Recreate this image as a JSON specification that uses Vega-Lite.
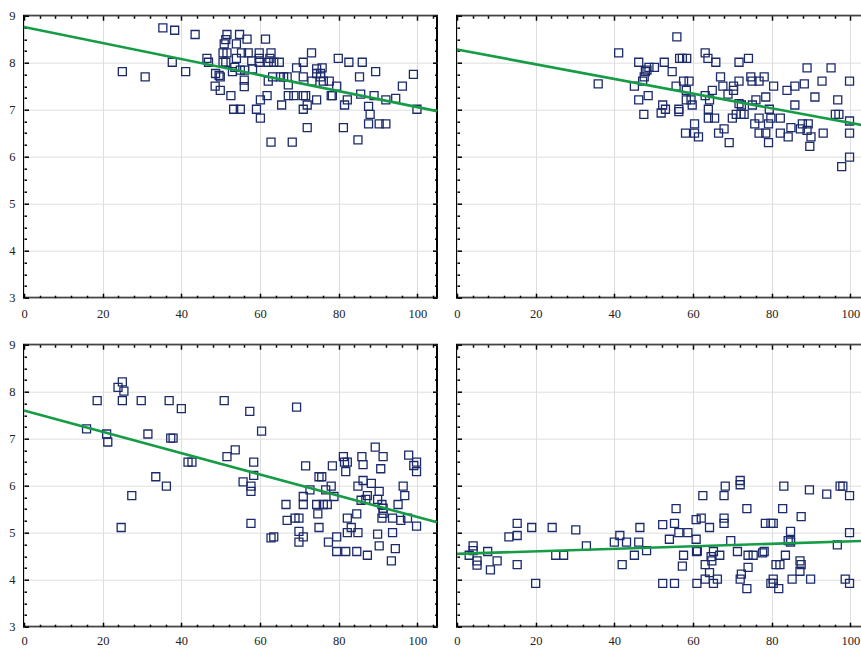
{
"$schema": "https://vega.github.io/schema/vega-lite/v6.json",
"padding": {"left": 7, "top": 8.7, "right": 0, "bottom": 0},
"background": "white",
"spacing": 17,
"config": {"view": {"stroke": "black", "strokeWidth": 2}, "font": "Liberation Serif", "axis": {"labelFont": "Liberation Serif", "labelFontSize": 12.5, "labelColor": "#222", "titleFont": "Liberation Serif"}},
"datasets": {
"p1": [{"x":35.3,"y":8.74},{"x":38.3,"y":8.69},{"x":43.5,"y":8.60},{"x":25.0,"y":7.81},{"x":30.8,"y":7.70},{"x":37.7,"y":8.01},{"x":41.1,"y":7.81},{"x":46.5,"y":8.09},{"x":46.9,"y":8.01},{"x":48.7,"y":7.77},{"x":49.6,"y":7.73},{"x":49.9,"y":7.70},{"x":48.6,"y":7.50},{"x":49.9,"y":7.41},{"x":50.6,"y":8.21},{"x":51.6,"y":8.21},{"x":50.6,"y":8.01},{"x":51.3,"y":8.01},{"x":50.9,"y":8.40},{"x":51.3,"y":8.49},{"x":51.6,"y":8.60},{"x":54.0,"y":8.40},{"x":54.8,"y":8.60},{"x":56.7,"y":8.50},{"x":55.3,"y":8.21},{"x":57.0,"y":8.21},{"x":54.0,"y":8.09},{"x":53.6,"y":7.90},{"x":53.0,"y":7.81},{"x":55.0,"y":7.84},{"x":56.1,"y":7.84},{"x":56.0,"y":7.63},{"x":56.0,"y":7.49},{"x":57.9,"y":8.04},{"x":58.1,"y":7.87},{"x":52.6,"y":7.30},{"x":53.3,"y":7.01},{"x":55.0,"y":7.01},{"x":59.1,"y":7.01},{"x":60.1,"y":7.21},{"x":60.1,"y":6.82},{"x":61.4,"y":8.50},{"x":59.8,"y":8.21},{"x":59.8,"y":8.09},{"x":59.8,"y":8.01},{"x":62.8,"y":8.21},{"x":62.5,"y":8.09},{"x":62.1,"y":8.01},{"x":63.5,"y":8.01},{"x":64.9,"y":8.01},{"x":62.1,"y":7.61},{"x":63.2,"y":7.70},{"x":65.2,"y":7.70},{"x":66.0,"y":7.70},{"x":66.9,"y":7.70},{"x":67.2,"y":7.53},{"x":61.8,"y":7.30},{"x":65.5,"y":7.10},{"x":62.8,"y":6.31},{"x":68.2,"y":6.31},{"x":67.2,"y":7.30},{"x":68.6,"y":7.30},{"x":69.3,"y":7.89},{"x":71.0,"y":8.01},{"x":73.1,"y":8.21},{"x":71.0,"y":7.70},{"x":73.2,"y":7.61},{"x":71.0,"y":7.30},{"x":71.6,"y":7.30},{"x":71.0,"y":7.01},{"x":72.0,"y":7.10},{"x":72.0,"y":6.62},{"x":74.4,"y":7.21},{"x":74.4,"y":7.87},{"x":74.4,"y":7.77},{"x":75.8,"y":7.89},{"x":75.4,"y":7.77},{"x":75.4,"y":7.70},{"x":76.1,"y":7.61},{"x":77.6,"y":7.61},{"x":78.1,"y":7.30},{"x":78.4,"y":7.30},{"x":79.9,"y":8.09},{"x":79.5,"y":7.50},{"x":82.6,"y":8.01},{"x":81.5,"y":7.10},{"x":82.2,"y":7.21},{"x":81.2,"y":6.62},{"x":86.0,"y":8.01},{"x":85.3,"y":7.70},{"x":85.6,"y":7.33},{"x":89.4,"y":7.81},{"x":89.0,"y":7.30},{"x":87.6,"y":7.07},{"x":88.0,"y":6.90},{"x":87.6,"y":6.70},{"x":90.3,"y":6.70},{"x":92.0,"y":6.70},{"x":84.9,"y":6.36},{"x":92.0,"y":7.21},{"x":94.5,"y":7.24},{"x":96.2,"y":7.50},{"x":99.0,"y":7.75},{"x":99.9,"y":7.01}],
"p2": [{"x":35.9,"y":7.55},{"x":41.1,"y":8.21},{"x":46.2,"y":8.01},{"x":45.1,"y":7.50},{"x":46.2,"y":7.21},{"x":47.5,"y":6.90},{"x":48.6,"y":7.30},{"x":47.2,"y":7.61},{"x":47.6,"y":7.70},{"x":47.9,"y":7.81},{"x":48.3,"y":7.84},{"x":48.8,"y":7.90},{"x":50.2,"y":7.90},{"x":52.7,"y":8.01},{"x":54.7,"y":7.81},{"x":52.3,"y":7.10},{"x":51.9,"y":6.93},{"x":53.0,"y":7.01},{"x":56.4,"y":7.01},{"x":56.4,"y":6.96},{"x":55.9,"y":8.55},{"x":56.6,"y":8.09},{"x":57.3,"y":8.09},{"x":58.4,"y":8.09},{"x":55.7,"y":7.50},{"x":57.6,"y":7.61},{"x":59.0,"y":7.61},{"x":58.3,"y":7.41},{"x":58.3,"y":7.21},{"x":59.5,"y":7.21},{"x":59.8,"y":7.10},{"x":58.1,"y":6.50},{"x":60.4,"y":6.70},{"x":60.4,"y":6.50},{"x":61.4,"y":6.42},{"x":63.1,"y":8.21},{"x":63.8,"y":8.09},{"x":65.8,"y":8.01},{"x":63.1,"y":7.30},{"x":64.2,"y":7.21},{"x":64.9,"y":7.41},{"x":63.9,"y":7.01},{"x":63.9,"y":6.82},{"x":65.5,"y":6.82},{"x":66.5,"y":6.50},{"x":67.9,"y":6.59},{"x":69.2,"y":6.30},{"x":67.0,"y":7.70},{"x":67.6,"y":7.50},{"x":68.9,"y":7.33},{"x":70.0,"y":6.82},{"x":70.3,"y":7.50},{"x":70.3,"y":7.41},{"x":71.7,"y":8.01},{"x":74.1,"y":8.09},{"x":71.7,"y":7.61},{"x":71.7,"y":7.13},{"x":72.3,"y":7.10},{"x":71.0,"y":6.90},{"x":72.2,"y":6.90},{"x":73.0,"y":6.90},{"x":74.7,"y":7.70},{"x":75.0,"y":7.61},{"x":76.8,"y":7.61},{"x":78.1,"y":7.70},{"x":75.1,"y":7.10},{"x":76.0,"y":7.21},{"x":75.7,"y":6.70},{"x":76.8,"y":6.82},{"x":76.8,"y":6.50},{"x":78.5,"y":6.50},{"x":78.5,"y":7.27},{"x":79.4,"y":7.01},{"x":79.8,"y":6.82},{"x":79.2,"y":6.70},{"x":79.2,"y":6.30},{"x":80.5,"y":7.50},{"x":82.2,"y":6.82},{"x":82.2,"y":6.50},{"x":83.9,"y":7.41},{"x":84.2,"y":6.42},{"x":84.9,"y":6.62},{"x":85.9,"y":7.50},{"x":85.9,"y":7.10},{"x":88.3,"y":7.55},{"x":89.0,"y":7.89},{"x":87.8,"y":6.70},{"x":89.3,"y":6.70},{"x":87.3,"y":6.59},{"x":89.0,"y":6.56},{"x":90.0,"y":6.42},{"x":89.7,"y":6.22},{"x":91.0,"y":7.27},{"x":92.8,"y":7.61},{"x":93.1,"y":6.50},{"x":95.1,"y":7.89},{"x":96.8,"y":7.21},{"x":96.2,"y":6.90},{"x":97.1,"y":6.90},{"x":97.8,"y":5.79},{"x":99.8,"y":7.61},{"x":99.8,"y":6.76},{"x":99.8,"y":6.50},{"x":99.8,"y":5.99}],
"p3": [{"x":15.9,"y":7.21},{"x":18.6,"y":7.81},{"x":21.0,"y":7.10},{"x":21.3,"y":6.93},{"x":23.9,"y":8.09},{"x":25.0,"y":8.21},{"x":25.4,"y":8.01},{"x":25.0,"y":7.81},{"x":24.7,"y":5.11},{"x":27.4,"y":5.79},{"x":29.8,"y":7.81},{"x":31.5,"y":7.10},{"x":33.5,"y":6.19},{"x":36.2,"y":5.99},{"x":36.9,"y":7.81},{"x":37.3,"y":7.01},{"x":37.9,"y":7.01},{"x":40.0,"y":7.64},{"x":41.7,"y":6.50},{"x":42.7,"y":6.50},{"x":50.9,"y":7.81},{"x":51.6,"y":6.62},{"x":53.7,"y":6.76},{"x":55.7,"y":6.08},{"x":57.4,"y":7.58},{"x":57.7,"y":5.99},{"x":57.7,"y":5.88},{"x":57.7,"y":5.20},{"x":58.4,"y":6.50},{"x":58.4,"y":6.22},{"x":60.4,"y":7.16},{"x":62.8,"y":4.89},{"x":63.5,"y":4.91},{"x":66.6,"y":5.60},{"x":66.9,"y":5.26},{"x":68.9,"y":5.31},{"x":69.9,"y":5.31},{"x":69.3,"y":7.67},{"x":69.9,"y":5.03},{"x":69.9,"y":4.80},{"x":71.0,"y":5.77},{"x":71.0,"y":5.60},{"x":71.0,"y":4.91},{"x":71.6,"y":6.42},{"x":72.7,"y":5.91},{"x":74.4,"y":5.60},{"x":74.7,"y":5.40},{"x":75.0,"y":6.19},{"x":75.7,"y":6.19},{"x":75.0,"y":5.11},{"x":76.1,"y":5.60},{"x":77.1,"y":5.60},{"x":76.7,"y":5.91},{"x":77.4,"y":4.80},{"x":78.1,"y":5.99},{"x":78.4,"y":6.42},{"x":78.8,"y":5.77},{"x":79.5,"y":4.91},{"x":79.5,"y":4.60},{"x":81.2,"y":6.62},{"x":81.5,"y":6.50},{"x":82.2,"y":6.50},{"x":81.8,"y":6.30},{"x":82.2,"y":5.31},{"x":82.2,"y":5.00},{"x":81.8,"y":4.60},{"x":83.2,"y":5.11},{"x":84.6,"y":5.40},{"x":84.9,"y":5.99},{"x":84.9,"y":5.00},{"x":84.6,"y":4.60},{"x":85.9,"y":6.62},{"x":86.2,"y":6.45},{"x":86.2,"y":6.11},{"x":85.7,"y":5.69},{"x":86.9,"y":5.71},{"x":87.3,"y":5.79},{"x":87.3,"y":4.52},{"x":88.3,"y":6.05},{"x":89.3,"y":6.82},{"x":89.9,"y":4.97},{"x":90.3,"y":5.88},{"x":89.9,"y":5.71},{"x":90.7,"y":6.36},{"x":90.3,"y":4.72},{"x":91.3,"y":6.62},{"x":91.0,"y":5.60},{"x":91.3,"y":5.52},{"x":91.3,"y":5.41},{"x":91.0,"y":5.31},{"x":93.7,"y":5.31},{"x":93.7,"y":5.00},{"x":93.4,"y":4.40},{"x":94.4,"y":4.66},{"x":95.1,"y":5.60},{"x":95.8,"y":5.26},{"x":96.4,"y":5.99},{"x":96.8,"y":5.79},{"x":97.5,"y":5.31},{"x":97.8,"y":6.65},{"x":99.1,"y":6.43},{"x":99.8,"y":6.50},{"x":99.8,"y":6.30},{"x":99.8,"y":5.14}],
"p4": [{"x":3.1,"y":4.52},{"x":4.1,"y":4.72},{"x":4.1,"y":4.62},{"x":5.1,"y":4.40},{"x":5.1,"y":4.31},{"x":7.8,"y":4.60},{"x":8.5,"y":4.21},{"x":10.2,"y":4.40},{"x":13.2,"y":4.91},{"x":15.3,"y":5.20},{"x":15.3,"y":4.94},{"x":15.3,"y":4.32},{"x":19.0,"y":5.11},{"x":20.0,"y":3.92},{"x":24.2,"y":5.11},{"x":25.1,"y":4.52},{"x":27.1,"y":4.52},{"x":30.2,"y":5.06},{"x":32.9,"y":4.72},{"x":40.0,"y":4.80},{"x":41.4,"y":4.94},{"x":43.1,"y":4.80},{"x":42.0,"y":4.32},{"x":45.1,"y":4.52},{"x":46.2,"y":4.80},{"x":46.5,"y":5.11},{"x":48.2,"y":4.62},{"x":52.3,"y":5.17},{"x":52.3,"y":3.92},{"x":54.0,"y":4.86},{"x":55.3,"y":5.20},{"x":55.7,"y":5.51},{"x":56.4,"y":5.00},{"x":55.3,"y":3.92},{"x":57.6,"y":4.52},{"x":57.3,"y":4.29},{"x":58.7,"y":5.00},{"x":60.8,"y":5.28},{"x":62.1,"y":5.31},{"x":60.8,"y":4.86},{"x":60.9,"y":4.60},{"x":61.1,"y":4.61},{"x":61.0,"y":3.92},{"x":62.5,"y":5.79},{"x":64.2,"y":5.11},{"x":63.1,"y":4.32},{"x":63.1,"y":4.01},{"x":64.2,"y":4.15},{"x":64.6,"y":4.49},{"x":64.8,"y":4.40},{"x":65.2,"y":4.60},{"x":65.2,"y":3.92},{"x":66.2,"y":4.01},{"x":66.8,"y":4.52},{"x":67.9,"y":5.79},{"x":68.2,"y":5.99},{"x":67.9,"y":5.31},{"x":67.9,"y":5.20},{"x":69.6,"y":4.83},{"x":71.3,"y":4.60},{"x":72.0,"y":6.11},{"x":72.0,"y":6.02},{"x":72.0,"y":4.01},{"x":72.3,"y":4.12},{"x":73.7,"y":5.51},{"x":74.0,"y":4.52},{"x":75.3,"y":4.52},{"x":74.0,"y":4.26},{"x":73.7,"y":3.81},{"x":77.7,"y":4.57},{"x":78.1,"y":4.60},{"x":78.4,"y":5.20},{"x":79.8,"y":5.20},{"x":80.4,"y":5.20},{"x":79.8,"y":3.92},{"x":80.4,"y":3.92},{"x":80.4,"y":4.01},{"x":81.1,"y":4.32},{"x":82.1,"y":4.32},{"x":81.8,"y":3.81},{"x":83.1,"y":5.99},{"x":82.8,"y":5.51},{"x":83.5,"y":4.52},{"x":84.2,"y":4.83},{"x":84.8,"y":4.83},{"x":84.8,"y":4.80},{"x":84.8,"y":5.03},{"x":85.2,"y":4.01},{"x":87.5,"y":5.34},{"x":87.2,"y":4.40},{"x":87.5,"y":4.32},{"x":87.2,"y":4.18},{"x":89.9,"y":4.01},{"x":89.6,"y":5.91},{"x":94.0,"y":5.82},{"x":96.7,"y":4.74},{"x":97.4,"y":5.99},{"x":98.1,"y":5.99},{"x":98.7,"y":4.01},{"x":99.8,"y":5.79},{"x":99.8,"y":5.00},{"x":99.8,"y":3.92}],
"l1": [{"x":0,"y":8.76},{"x":105,"y":6.97}],
"l2": [{"x":0,"y":8.28},{"x":105,"y":6.64}],
"l3": [{"x":0,"y":7.60},{"x":105,"y":5.22}],
"l4": [{"x":0,"y":4.55},{"x":105,"y":4.83}]
},
"vconcat": [
{"spacing": 6, "hconcat": [
{"width": 413, "height": 282, "resolve": {"axis": {"x": "independent", "y": "independent"}},
 "layer": [
  {"data": {"name": "p1"}, "mark": {"type": "point", "shape": "square", "filled": false, "stroke": "#1b2a6b", "strokeWidth": 1.3, "size": 64, "opacity": 1},
   "encoding": {"x": {"field": "x", "type": "quantitative", "scale": {"domain": [0, 105], "nice": false, "zero": false}, "axis": {"orient": "bottom", "values": [0,20,40,60,80,100], "title": null, "grid": true, "gridColor": "#dedede", "domain": false, "tickSize": -4.5, "tickWidth": 1.5, "tickColor": "black", "labelFont": "Liberation Serif", "labelFontSize": 12.5, "labelColor": "#222", "labelPadding": 14, "labelFlush": false}},
                "y": {"field": "y", "type": "quantitative", "scale": {"domain": [3, 9], "nice": false, "zero": false}, "axis": {"orient": "left", "values": [3,4,5,6,7,8,9], "title": null, "grid": true, "gridColor": "#dedede", "domain": false, "tickSize": -4.5, "tickWidth": 1.5, "tickColor": "black", "labelFont": "Liberation Serif", "labelFontSize": 12.5, "labelColor": "#222", "labelPadding": 13.5}}}},
  {"data": {"name": "l1"}, "mark": {"type": "line", "color": "#169c45", "strokeWidth": 2.6},
   "encoding": {"x": {"field": "x", "type": "quantitative", "axis": {"orient": "top", "values": [0,20,40,60,80,100], "title": null, "grid": false, "domain": false, "labels": false, "tickSize": -4.5, "tickWidth": 1.5, "tickColor": "black"}},
                "y": {"field": "y", "type": "quantitative", "axis": {"orient": "right", "values": [3,4,5,6,7,8,9], "title": null, "grid": false, "domain": false, "labels": false, "tickSize": -4.5, "tickWidth": 1.5, "tickColor": "black"}}}},
  {"data": {"name": "l1"}, "mark": {"type": "point", "opacity": 0},
   "encoding": {"x": {"field": "x", "type": "quantitative", "axis": {"orient": "bottom", "values": [4,8,12,16,24,28,32,36,44,48,52,56,64,68,72,76,84,88,92,96,104], "title": null, "grid": false, "domain": false, "labels": false, "tickSize": -2.5, "tickWidth": 1.5, "tickColor": "black"}},
                "y": {"field": "y", "type": "quantitative", "axis": {"orient": "left", "values": [3.25,3.5,3.75,4.25,4.5,4.75,5.25,5.5,5.75,6.25,6.5,6.75,7.25,7.5,7.75,8.25,8.5,8.75], "title": null, "grid": false, "domain": false, "labels": false, "tickSize": -2.5, "tickWidth": 1.5, "tickColor": "black"}}}},
  {"data": {"name": "l1"}, "mark": {"type": "point", "opacity": 0},
   "encoding": {"x": {"field": "x", "type": "quantitative", "axis": {"orient": "top", "values": [4,8,12,16,24,28,32,36,44,48,52,56,64,68,72,76,84,88,92,96,104], "title": null, "grid": false, "domain": false, "labels": false, "tickSize": -2.5, "tickWidth": 1.5, "tickColor": "black"}},
                "y": {"field": "y", "type": "quantitative", "axis": {"orient": "right", "values": [3.25,3.5,3.75,4.25,4.5,4.75,5.25,5.5,5.75,6.25,6.5,6.75,7.25,7.5,7.75,8.25,8.5,8.75], "title": null, "grid": false, "domain": false, "labels": false, "tickSize": -2.5, "tickWidth": 1.5, "tickColor": "black"}}}}
 ]},
{"width": 413, "height": 282, "resolve": {"axis": {"x": "independent", "y": "independent"}},
 "layer": [
  {"data": {"name": "p2"}, "mark": {"type": "point", "shape": "square", "filled": false, "stroke": "#1b2a6b", "strokeWidth": 1.3, "size": 64, "opacity": 1},
   "encoding": {"x": {"field": "x", "type": "quantitative", "scale": {"domain": [0, 105], "nice": false, "zero": false}, "axis": {"orient": "bottom", "values": [0,20,40,60,80,100], "title": null, "grid": true, "gridColor": "#dedede", "domain": false, "tickSize": -4.5, "tickWidth": 1.5, "tickColor": "black", "labelFont": "Liberation Serif", "labelFontSize": 12.5, "labelColor": "#222", "labelPadding": 14, "labelFlush": false}},
                "y": {"field": "y", "type": "quantitative", "scale": {"domain": [3, 9], "nice": false, "zero": false}, "axis": {"orient": "left", "values": [3,4,5,6,7,8,9], "title": null, "grid": true, "gridColor": "#dedede", "domain": false, "labels": false, "tickSize": -4.5, "tickWidth": 1.5, "tickColor": "black"}}}},
  {"data": {"name": "l2"}, "mark": {"type": "line", "color": "#169c45", "strokeWidth": 2.6},
   "encoding": {"x": {"field": "x", "type": "quantitative", "axis": {"orient": "top", "values": [0,20,40,60,80,100], "title": null, "grid": false, "domain": false, "labels": false, "tickSize": -4.5, "tickWidth": 1.5, "tickColor": "black"}},
                "y": {"field": "y", "type": "quantitative", "axis": {"orient": "right", "values": [3,4,5,6,7,8,9], "title": null, "grid": false, "domain": false, "labels": false, "tickSize": -4.5, "tickWidth": 1.5, "tickColor": "black"}}}},
  {"data": {"name": "l2"}, "mark": {"type": "point", "opacity": 0},
   "encoding": {"x": {"field": "x", "type": "quantitative", "axis": {"orient": "bottom", "values": [4,8,12,16,24,28,32,36,44,48,52,56,64,68,72,76,84,88,92,96,104], "title": null, "grid": false, "domain": false, "labels": false, "tickSize": -2.5, "tickWidth": 1.5, "tickColor": "black"}},
                "y": {"field": "y", "type": "quantitative", "axis": {"orient": "left", "values": [3.25,3.5,3.75,4.25,4.5,4.75,5.25,5.5,5.75,6.25,6.5,6.75,7.25,7.5,7.75,8.25,8.5,8.75], "title": null, "grid": false, "domain": false, "labels": false, "tickSize": -2.5, "tickWidth": 1.5, "tickColor": "black"}}}},
  {"data": {"name": "l2"}, "mark": {"type": "point", "opacity": 0},
   "encoding": {"x": {"field": "x", "type": "quantitative", "axis": {"orient": "top", "values": [4,8,12,16,24,28,32,36,44,48,52,56,64,68,72,76,84,88,92,96,104], "title": null, "grid": false, "domain": false, "labels": false, "tickSize": -2.5, "tickWidth": 1.5, "tickColor": "black"}},
                "y": {"field": "y", "type": "quantitative", "axis": {"orient": "right", "values": [3.25,3.5,3.75,4.25,4.5,4.75,5.25,5.5,5.75,6.25,6.5,6.75,7.25,7.5,7.75,8.25,8.5,8.75], "title": null, "grid": false, "domain": false, "labels": false, "tickSize": -2.5, "tickWidth": 1.5, "tickColor": "black"}}}}
 ]}
]},
{"spacing": 6, "hconcat": [
{"width": 413, "height": 282, "resolve": {"axis": {"x": "independent", "y": "independent"}},
 "layer": [
  {"data": {"name": "p3"}, "mark": {"type": "point", "shape": "square", "filled": false, "stroke": "#1b2a6b", "strokeWidth": 1.3, "size": 64, "opacity": 1},
   "encoding": {"x": {"field": "x", "type": "quantitative", "scale": {"domain": [0, 105], "nice": false, "zero": false}, "axis": {"orient": "bottom", "values": [0,20,40,60,80,100], "title": null, "grid": true, "gridColor": "#dedede", "domain": false, "tickSize": -4.5, "tickWidth": 1.5, "tickColor": "black", "labelFont": "Liberation Serif", "labelFontSize": 12.5, "labelColor": "#222", "labelPadding": 12.5, "labelFlush": false}},
                "y": {"field": "y", "type": "quantitative", "scale": {"domain": [3, 9], "nice": false, "zero": false}, "axis": {"orient": "left", "values": [3,4,5,6,7,8,9], "title": null, "grid": true, "gridColor": "#dedede", "domain": false, "tickSize": -4.5, "tickWidth": 1.5, "tickColor": "black", "labelFont": "Liberation Serif", "labelFontSize": 12.5, "labelColor": "#222", "labelPadding": 13.5}}}},
  {"data": {"name": "l3"}, "mark": {"type": "line", "color": "#169c45", "strokeWidth": 2.6},
   "encoding": {"x": {"field": "x", "type": "quantitative", "axis": {"orient": "top", "values": [0,20,40,60,80,100], "title": null, "grid": false, "domain": false, "labels": false, "tickSize": -4.5, "tickWidth": 1.5, "tickColor": "black"}},
                "y": {"field": "y", "type": "quantitative", "axis": {"orient": "right", "values": [3,4,5,6,7,8,9], "title": null, "grid": false, "domain": false, "labels": false, "tickSize": -4.5, "tickWidth": 1.5, "tickColor": "black"}}}},
  {"data": {"name": "l3"}, "mark": {"type": "point", "opacity": 0},
   "encoding": {"x": {"field": "x", "type": "quantitative", "axis": {"orient": "bottom", "values": [4,8,12,16,24,28,32,36,44,48,52,56,64,68,72,76,84,88,92,96,104], "title": null, "grid": false, "domain": false, "labels": false, "tickSize": -2.5, "tickWidth": 1.5, "tickColor": "black"}},
                "y": {"field": "y", "type": "quantitative", "axis": {"orient": "left", "values": [3.25,3.5,3.75,4.25,4.5,4.75,5.25,5.5,5.75,6.25,6.5,6.75,7.25,7.5,7.75,8.25,8.5,8.75], "title": null, "grid": false, "domain": false, "labels": false, "tickSize": -2.5, "tickWidth": 1.5, "tickColor": "black"}}}},
  {"data": {"name": "l3"}, "mark": {"type": "point", "opacity": 0},
   "encoding": {"x": {"field": "x", "type": "quantitative", "axis": {"orient": "top", "values": [4,8,12,16,24,28,32,36,44,48,52,56,64,68,72,76,84,88,92,96,104], "title": null, "grid": false, "domain": false, "labels": false, "tickSize": -2.5, "tickWidth": 1.5, "tickColor": "black"}},
                "y": {"field": "y", "type": "quantitative", "axis": {"orient": "right", "values": [3.25,3.5,3.75,4.25,4.5,4.75,5.25,5.5,5.75,6.25,6.5,6.75,7.25,7.5,7.75,8.25,8.5,8.75], "title": null, "grid": false, "domain": false, "labels": false, "tickSize": -2.5, "tickWidth": 1.5, "tickColor": "black"}}}}
 ]},
{"width": 413, "height": 282, "resolve": {"axis": {"x": "independent", "y": "independent"}},
 "layer": [
  {"data": {"name": "p4"}, "mark": {"type": "point", "shape": "square", "filled": false, "stroke": "#1b2a6b", "strokeWidth": 1.3, "size": 64, "opacity": 1},
   "encoding": {"x": {"field": "x", "type": "quantitative", "scale": {"domain": [0, 105], "nice": false, "zero": false}, "axis": {"orient": "bottom", "values": [0,20,40,60,80,100], "title": null, "grid": true, "gridColor": "#dedede", "domain": false, "tickSize": -4.5, "tickWidth": 1.5, "tickColor": "black", "labelFont": "Liberation Serif", "labelFontSize": 12.5, "labelColor": "#222", "labelPadding": 12.5, "labelFlush": false}},
                "y": {"field": "y", "type": "quantitative", "scale": {"domain": [3, 9], "nice": false, "zero": false}, "axis": {"orient": "left", "values": [3,4,5,6,7,8,9], "title": null, "grid": true, "gridColor": "#dedede", "domain": false, "labels": false, "tickSize": -4.5, "tickWidth": 1.5, "tickColor": "black"}}}},
  {"data": {"name": "l4"}, "mark": {"type": "line", "color": "#169c45", "strokeWidth": 2.6},
   "encoding": {"x": {"field": "x", "type": "quantitative", "axis": {"orient": "top", "values": [0,20,40,60,80,100], "title": null, "grid": false, "domain": false, "labels": false, "tickSize": -4.5, "tickWidth": 1.5, "tickColor": "black"}},
                "y": {"field": "y", "type": "quantitative", "axis": {"orient": "right", "values": [3,4,5,6,7,8,9], "title": null, "grid": false, "domain": false, "labels": false, "tickSize": -4.5, "tickWidth": 1.5, "tickColor": "black"}}}},
  {"data": {"name": "l4"}, "mark": {"type": "point", "opacity": 0},
   "encoding": {"x": {"field": "x", "type": "quantitative", "axis": {"orient": "bottom", "values": [4,8,12,16,24,28,32,36,44,48,52,56,64,68,72,76,84,88,92,96,104], "title": null, "grid": false, "domain": false, "labels": false, "tickSize": -2.5, "tickWidth": 1.5, "tickColor": "black"}},
                "y": {"field": "y", "type": "quantitative", "axis": {"orient": "left", "values": [3.25,3.5,3.75,4.25,4.5,4.75,5.25,5.5,5.75,6.25,6.5,6.75,7.25,7.5,7.75,8.25,8.5,8.75], "title": null, "grid": false, "domain": false, "labels": false, "tickSize": -2.5, "tickWidth": 1.5, "tickColor": "black"}}}},
  {"data": {"name": "l4"}, "mark": {"type": "point", "opacity": 0},
   "encoding": {"x": {"field": "x", "type": "quantitative", "axis": {"orient": "top", "values": [4,8,12,16,24,28,32,36,44,48,52,56,64,68,72,76,84,88,92,96,104], "title": null, "grid": false, "domain": false, "labels": false, "tickSize": -2.5, "tickWidth": 1.5, "tickColor": "black"}},
                "y": {"field": "y", "type": "quantitative", "axis": {"orient": "right", "values": [3.25,3.5,3.75,4.25,4.5,4.75,5.25,5.5,5.75,6.25,6.5,6.75,7.25,7.5,7.75,8.25,8.5,8.75], "title": null, "grid": false, "domain": false, "labels": false, "tickSize": -2.5, "tickWidth": 1.5, "tickColor": "black"}}}}
 ]}
]}
]
}
